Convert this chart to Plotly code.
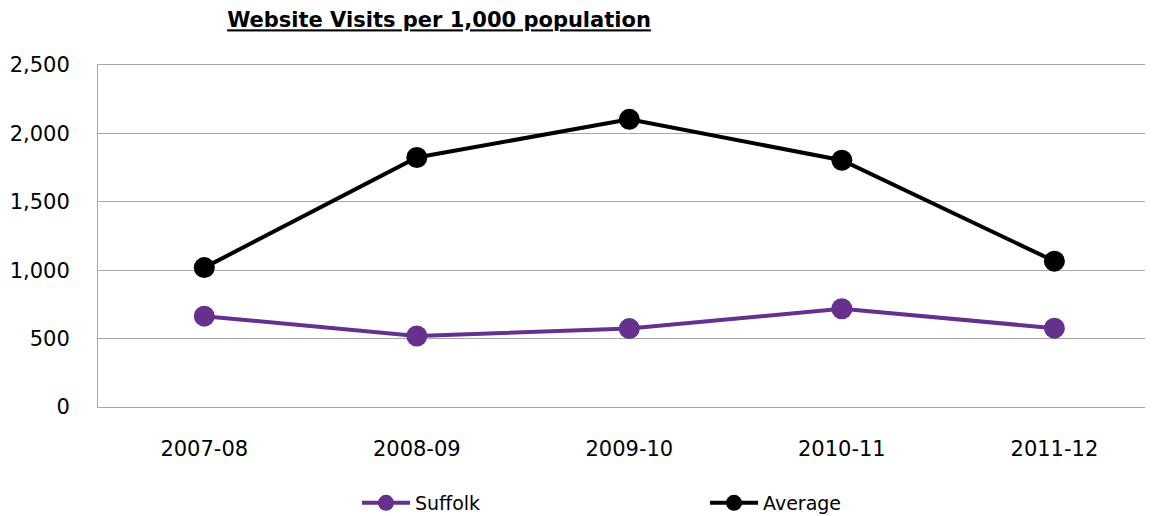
import plotly.graph_objects as go

categories = ["2007-08", "2008-09", "2009-10", "2010-11", "2011-12"]
suffolk = [664, 519, 573, 718, 576]
average = [1019, 1824, 2103, 1804, 1066]
y_ticks = [0, 500, 1000, 1500, 2000, 2500]
y_tick_labels = ["0", "500", "1,000", "1,500", "2,000", "2,500"]

FONT = "DejaVu Sans"
PURPLE = "#66308F"
GRID = "#A6A6A6"

W, H = 1145, 508  # page body has an 8px margin

fig = go.Figure()
fig.add_trace(go.Scatter(
    x=categories, y=suffolk, name="Suffolk", mode="lines+markers",
    line=dict(color=PURPLE, width=4),
    marker=dict(color=PURPLE, size=21),
))
fig.add_trace(go.Scatter(
    x=categories, y=average, name="Average", mode="lines+markers",
    line=dict(color="black", width=4),
    marker=dict(color="black", size=21),
))

fig.update_layout(
    width=W, height=H,
    margin=dict(l=90, r=0, t=57, b=109, pad=0),
    paper_bgcolor="white", plot_bgcolor="white",
    font=dict(family=FONT, size=21, color="black"),
    title=dict(
        text="<span style='text-decoration:underline'><b>Website Visits per 1,000 population</b></span>",
        x=(439 - 8) / W, xanchor="center", xref="container",
        y=1 - (20 - 8) / H, yanchor="middle", yref="container",
        font=dict(family=FONT, size=21, color="black"),
    ),
    showlegend=True,
    legend=dict(
        orientation="h",
        x=(357 - 8) / W, xanchor="left", xref="container",
        y=1 - (503 - 8) / H, yanchor="middle", yref="container",
        font=dict(family=FONT, size=19, color="black"),
        itemwidth=48,
        entrywidth=285, entrywidthmode="pixels",
        bgcolor="rgba(0,0,0,0)",
    ),
    xaxis=dict(
        type="category", range=[-0.5, 4.464],
        showgrid=False, showline=True, mirror=True,
        linecolor=GRID, linewidth=1, zeroline=False,
        ticks="", ticklabelstandoff=23,
        tickfont=dict(family=FONT, size=21, color="black"),
    ),
    yaxis=dict(
        range=[0, 2500], tickvals=y_ticks, ticktext=y_tick_labels,
        showgrid=True, gridcolor=GRID, gridwidth=1,
        showline=True, linecolor=GRID, linewidth=1,
        zeroline=False, ticks="", ticklabelstandoff=23,
        tickfont=dict(family=FONT, size=21, color="black"),
    ),
)

fig.write_html("out.html")
